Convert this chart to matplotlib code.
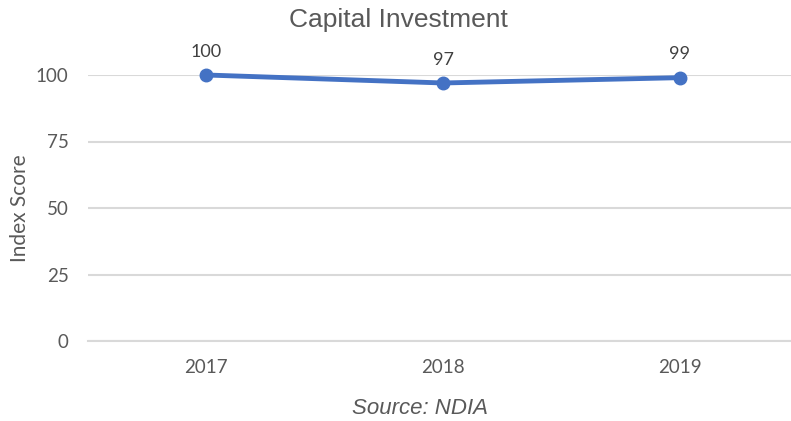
import matplotlib
matplotlib.use("Agg")
import matplotlib.pyplot as plt

years = ["2017", "2018", "2019"]
scores = [100, 97, 99]
y_ticks = [0, 25, 50, 75, 100]

line_color = "#4472C4"
text_color = "#595959"
grid_color = "#D9D9D9"

fig = plt.figure(figsize=(7.91, 4.21), dpi=100)
ax = fig.add_axes([88 / 791, 1 - 341 / 421, 1 - 88 / 791, 266 / 421])

x = list(range(len(years)))
ax.plot(x, scores, color=line_color, linewidth=3.5, marker="o", markersize=9,
        solid_capstyle="round", zorder=3, clip_on=False)
for xi, v in zip(x, scores):
    ax.annotate(f"{v}", (xi, v), xytext=(0, 11), textcoords="offset points",
                ha="center", va="bottom", fontsize=13, color="#404040",
                family="Lato")

ax.set_xlim(-0.5, 2.47)
ax.set_ylim(0, 100)
ax.set_yticks(y_ticks)
ax.set_xticks(x)
ax.set_xticklabels(years)
ax.yaxis.grid(True, color=grid_color, linewidth=1.5)
ax.set_axisbelow(True)
for s in ax.spines.values():
    s.set_visible(False)
ax.spines["bottom"].set_visible(True)
ax.spines["bottom"].set_color(grid_color)
ax.spines["bottom"].set_linewidth(1.5)
ax.tick_params(axis="both", length=0, labelsize=13.5, labelcolor=text_color)
ax.tick_params(axis="y", pad=14)
ax.tick_params(axis="x", pad=13)
for lab in ax.get_xticklabels() + ax.get_yticklabels():
    lab.set_family("Lato")

ax.set_ylabel("Index Score", fontsize=15, color=text_color, family="Lato")
ax.yaxis.set_label_coords(-58 / 703, 0.5)

fig.text(398 / 791, 1 - 20 / 421, "Capital Investment", ha="center", va="center",
         fontsize=19, color=text_color, family="Liberation Sans")
fig.text(420 / 791, 1 - 409 / 421, "Source: NDIA", ha="center", va="center",
         fontsize=16, color=text_color, family="Liberation Sans", style="italic")

fig.savefig("out.png", dpi=100)
